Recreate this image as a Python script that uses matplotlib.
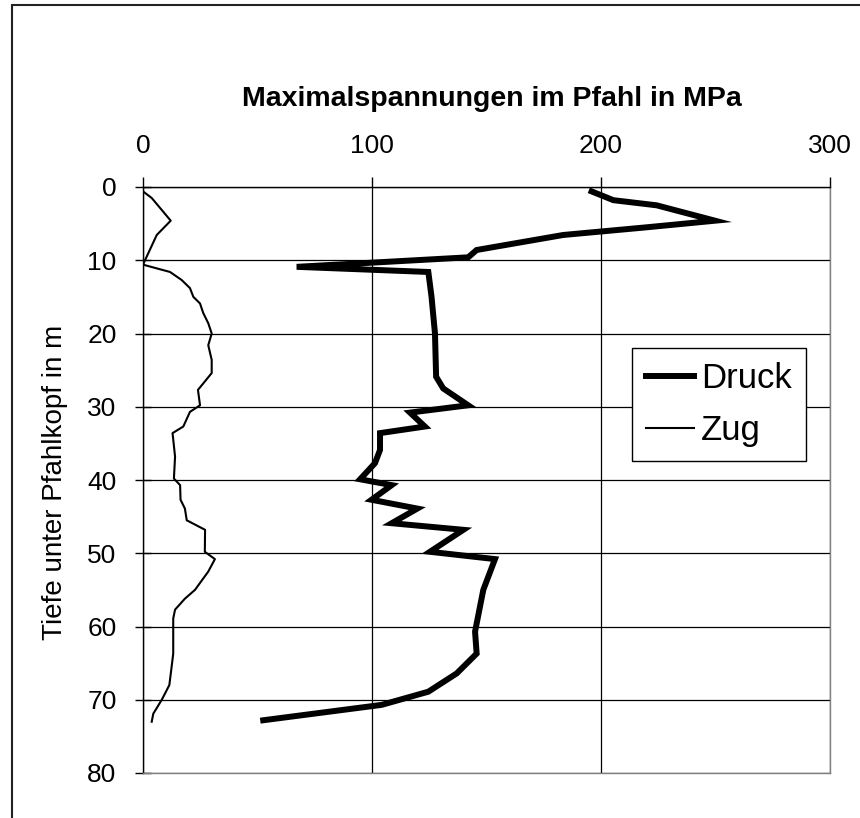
import matplotlib
matplotlib.use("Agg")
import matplotlib.pyplot as plt
from matplotlib.patches import Rectangle

plt.rcParams['font.family'] = ['Liberation Sans', 'DejaVu Sans']

# Druck (compression), depth in m / stress in MPa
druck_depth = [0.6, 1.8, 2.5, 4.6, 5.5, 6.55, 8.6, 9.6, 10.9, 11.6, 15.0, 20.0, 25.9, 27.5,
               29.8, 30.8, 32.7, 33.6, 35.9, 37.7, 39.9, 40.7, 42.7, 43.9, 45.9, 46.8, 49.8,
               50.8, 55.0, 60.7, 63.7, 66.4, 68.9, 70.7, 72.8]
druck = [195.9, 205.4, 224.3, 249.8, 220.0, 183.5, 145.7, 142.0, 67.1, 124.6, 126.0, 127.5,
         128.0, 131.1, 142.0, 116.6, 123.1, 103.5, 103.5, 101.3, 94.8, 108.6, 99.8, 119.8,
         108.6, 139.9, 125.3, 153.7, 148.6, 145.0, 145.7, 137.0, 124.6, 104.2, 52.5]

# Zug (tension)
zug_depth = [0.6, 1.5, 3.4, 4.6, 6.55, 10.6, 11.6, 12.7, 13.8, 15.0, 15.9, 17.2, 18.6, 20.0,
             21.6, 23.6, 25.4, 27.7, 29.8, 30.7, 32.7, 33.6, 36.8, 39.8, 40.7, 42.7, 43.9,
             45.5, 46.8, 49.8, 50.8, 52.5, 55.0, 56.2, 57.7, 58.9, 63.7, 65.5, 68.0, 70.0,
             71.9, 73.0]
zug = [0.0, 3.8, 8.9, 12.1, 6.0, 0.0, 11.8, 16.9, 20.5, 22.0, 24.9, 26.3, 28.5, 30.0, 28.5,
       30.0, 30.0, 24.0, 24.9, 20.5, 17.6, 12.9, 14.0, 13.5, 16.2, 16.4, 18.3, 19.1, 27.1,
       27.0, 31.4, 28.5, 22.7, 18.3, 14.0, 13.2, 13.2, 12.5, 11.5, 8.2, 4.5, 3.8]

x_ticks = [0, 100, 200, 300]
y_ticks = [0, 10, 20, 30, 40, 50, 60, 70, 80]

W, H = 860, 818
fig = plt.figure(figsize=(W / 100, H / 100), dpi=100)
ax = fig.add_axes([143 / W, 1 - 773 / H, (830 - 143) / W, (773 - 187) / H])

ax.plot(druck, druck_depth, color='black', lw=4.3, solid_joinstyle='miter', label='Druck')
ax.plot(zug, zug_depth, color='black', lw=1.5, label='Zug')

ax.set_xlim(0, 300)
ax.set_ylim(80, 0)
ax.set_xticks(x_ticks)
ax.set_yticks(y_ticks)
ax.xaxis.tick_top()
ax.grid(True, color='black', lw=0.9)
ax.set_axisbelow(True)
for s in ['right', 'bottom']:
    ax.spines[s].set_color('#808080')
for s in ax.spines.values():
    s.set_linewidth(1.0)

ax.tick_params(axis='x', direction='out', length=7, width=1, labelsize=19, pad=14)
ax.tick_params(axis='y', direction='inout', length=12, width=1, labelsize=19, pad=13)

# axis title and y label placed in figure pixels
fig.text(492 / W, 1 - 106 / H, 'Maximalspannungen im Pfahl in MPa', fontsize=20.5,
         fontweight='bold', ha='center', va='baseline')
fig.text(55 / W, 1 - 482 / H, 'Tiefe unter Pfahlkopf in m', fontsize=20, rotation=90,
         ha='center', va='center')

leg = ax.legend(loc='upper right', bbox_to_anchor=(806 / W, 1 - 348 / H),
                bbox_transform=fig.transFigure, fontsize=25, frameon=True, fancybox=False,
                edgecolor='black', framealpha=1, handlelength=1.4, handletextpad=0.2,
                labelspacing=0.55, borderpad=0.4, borderaxespad=0)
leg.get_frame().set_linewidth(1.0)

fig.patches.append(Rectangle((12 / W, -0.1), 1.2, 1 - 5 / H + 0.1, transform=fig.transFigure,
                             fill=False, edgecolor='#222222', lw=1.5))

fig.savefig('out.png', dpi=100)
